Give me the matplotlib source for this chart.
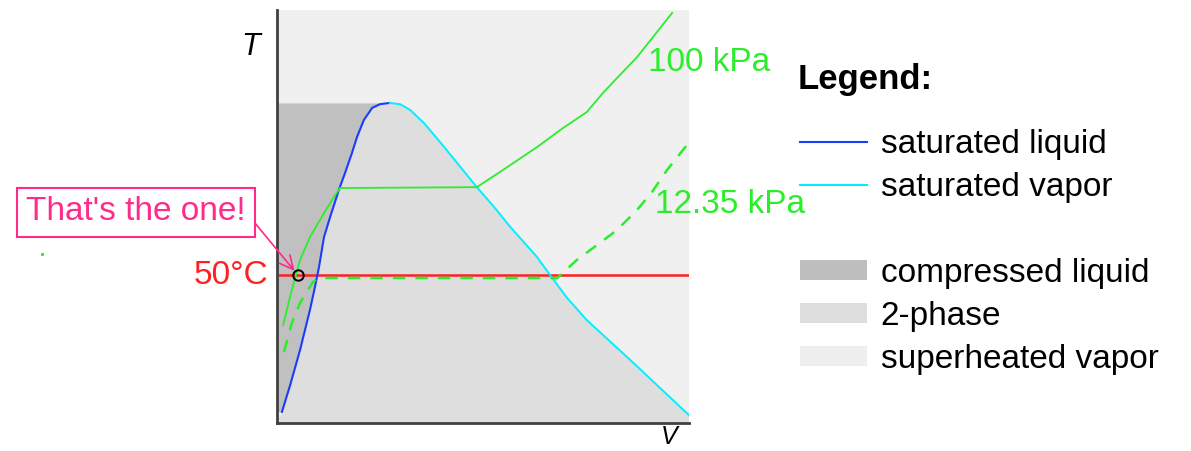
import matplotlib

matplotlib.use("Agg")

import matplotlib.pyplot as plt
from matplotlib.lines import Line2D
from matplotlib.patches import Patch

# T-v diagram, arbitrary units (v: 0..100, T: 0..100)
sat_liq_v = [1.2, 3.2, 5.6, 8.0, 9.2, 10.2, 11.4, 12.9, 15.0, 16.5, 18.2, 19.4, 21.1, 23.1, 25.0, 27.4]
sat_liq_T = [2.7, 9.2, 17.7, 27.4, 32.9, 37.8, 45.0, 49.9, 56.4, 60.5, 65.4, 69.2, 73.4, 76.3, 77.2, 77.5]

sat_vap_v = [27.4, 29.9, 32.3, 35.7, 39.6, 43.7, 48.5, 52.7, 56.6, 63.1, 66.3, 70.4, 75.2, 85.7, 100.0]
sat_vap_T = [77.5, 77.2, 75.8, 72.6, 68.0, 63.0, 57.1, 52.3, 47.5, 40.2, 35.8, 30.3, 24.9, 15.3, 1.9]

p100_v = [1.5, 2.4, 3.6, 5.6, 8.0, 11.4, 13.8, 15.3, 48.5, 54.9, 63.1, 69.4, 75.2, 79.1, 82.5, 87.4, 91.3, 95.9]
p100_T = [23.7, 27.4, 32.2, 39.5, 45.0, 50.8, 54.7, 56.9, 57.1, 61.3, 66.8, 71.4, 75.3, 79.9, 83.5, 88.6, 93.5, 99.3]

p1235_v = [1.7, 3.6, 5.6, 8.7, 10.0, 68.0, 72.8, 77.7, 82.5, 87.4, 91.0, 94.7, 99.5]
p1235_T = [17.2, 24.2, 29.1, 34.1, 35.1, 35.1, 39.5, 43.1, 46.7, 51.6, 55.9, 61.3, 67.3]

iso_T = 35.8
state_v, state_T = 5.1, 35.8
stray_v, stray_T = -57.0, 40.9

legend_labels = ["saturated liquid", "saturated vapor", "", "compressed liquid", "2-phase", "superheated vapor"]

plt.rcParams["font.family"] = ["Liberation Sans", "DejaVu Sans"]

GREEN = "#2bee2b"
PINK = "#ff2a8a"
BLUE = "#1a3cff"
CYAN = "#00f0ff"
RED = "#ff2020"
FS = 24

fig = plt.figure(figsize=(11.91, 4.51), dpi=100)
ax = fig.add_axes([277 / 1191, 28 / 451, 412 / 1191, 413 / 451])
ax.set_xlim(0, 100)
ax.set_ylim(0, 100)
ax.set_facecolor("#f0f0f0")

# phase regions
dome_v = [0] + sat_liq_v + sat_vap_v[1:] + [100]
dome_T = [0] + sat_liq_T + sat_vap_T[1:] + [0]
ax.fill(dome_v, dome_T, color="#dedede", lw=0, zorder=1)
ax.fill_betweenx(sat_liq_T, 0, sat_liq_v, color="#c0c0c0", lw=0, zorder=1.5)

# saturation curves, isobars, isotherm
ax.plot(sat_liq_v, sat_liq_T, color=BLUE, lw=1.5, zorder=3)
ax.plot(sat_vap_v, sat_vap_T, color=CYAN, lw=1.4, zorder=3)
ax.axhline(iso_T, color=RED, lw=1.8, zorder=2.5)
ax.plot(p100_v, p100_T, color=GREEN, lw=1.3, zorder=4)
ax.plot(p1235_v, p1235_T, color=GREEN, lw=1.8, ls=(0, (5, 4)), zorder=4)
ax.plot(state_v, state_T, marker="o", ms=7.5, mfc="none", mec="black", mew=1.4, zorder=5)
ax.plot(stray_v, stray_T, marker="s", ms=1.2, color=GREEN, lw=0, clip_on=False)

ax.text(90.0, 87.4, "100 kPa", color=GREEN, fontsize=FS, va="center", ha="left", clip_on=False)
ax.text(91.7, 52.8, "12.35 kPa", color=GREEN, fontsize=FS, va="center", ha="left", clip_on=False)
ax.text(-2.0, iso_T, "50°C", color=RED, fontsize=FS, va="center", ha="right", clip_on=False)

ax.annotate(
    "That's the one!",
    xy=(state_v, state_T),
    xycoords="data",
    xytext=(136 / 1191, 1 - 212 / 451),
    textcoords="figure fraction",
    color=PINK,
    fontsize=FS,
    ha="center",
    va="center",
    bbox=dict(boxstyle="square,pad=0.27", fc="white", ec=PINK, lw=1.5),
    arrowprops=dict(arrowstyle="->", color=PINK, lw=1.2, relpos=(1, 0.5), shrinkA=0, shrinkB=4),
)

for side in ("top", "right"):
    ax.spines[side].set_visible(False)
for side in ("left", "bottom"):
    ax.spines[side].set_color("#404040")
    ax.spines[side].set_linewidth(2)
ax.set_xticks([])
ax.set_yticks([])

fig.text(251 / 1191, 1 - 47 / 451, "T", fontsize=22, style="italic", ha="center", va="center")
fig.text(669 / 1191, 7 / 451, "V", fontsize=18, style="italic", ha="center", va="baseline")

fig.text(798 / 1191, 1 - 80 / 451, "Legend:", fontsize=25, weight="bold", ha="left", va="center")
handles = [
    Line2D([], [], color=BLUE, lw=1.5),
    Line2D([], [], color=CYAN, lw=1.5),
    Line2D([], [], color="none"),
    Patch(color="#bebebe", lw=0),
    Patch(color="#dedede", lw=0),
    Patch(color="#eeeeee", lw=0),
]
fig.legend(
    handles,
    legend_labels,
    loc="upper left",
    bbox_to_anchor=(800 / 1191, 1 - 129 / 451),
    frameon=False,
    fontsize=FS,
    handlelength=2.0,
    handleheight=0.55,
    handletextpad=0.42,
    labelspacing=0.36,
    borderaxespad=0,
    borderpad=0,
)

fig.savefig("out.png", dpi=100)
